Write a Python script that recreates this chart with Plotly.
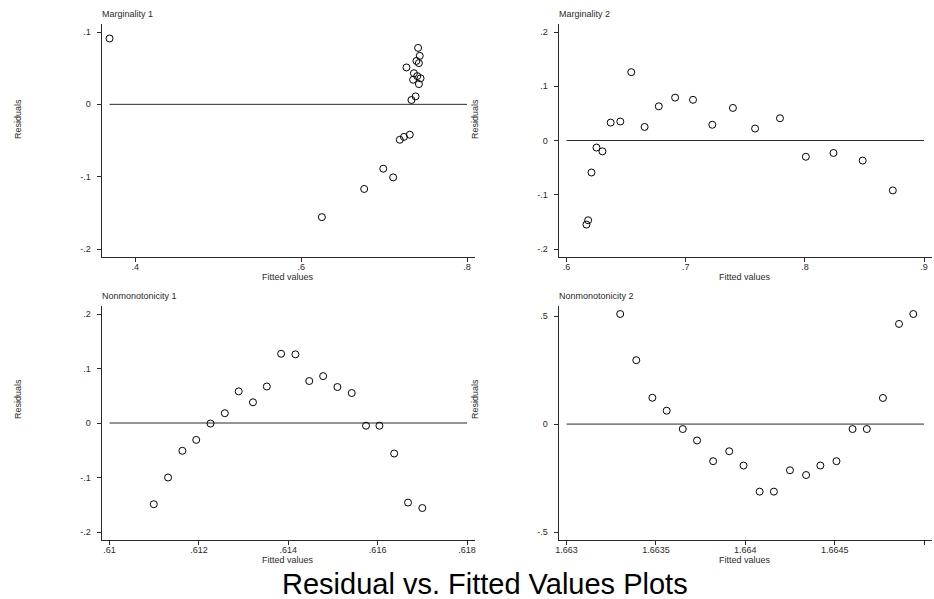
import plotly.graph_objects as go

# ---------------- data ----------------
marg1_x = [0.369, 0.676, 0.625, 0.699, 0.711, 0.719, 0.724, 0.731, 0.727, 0.733,
           0.738, 0.735, 0.736, 0.739, 0.740, 0.741, 0.743, 0.742, 0.744, 0.742]
marg1_y = [0.091, -0.117, -0.156, -0.089, -0.101, -0.049, -0.045, -0.042, 0.051, 0.006,
           0.011, 0.034, 0.043, 0.060, 0.039, 0.078, 0.067, 0.057, 0.036, 0.028]

marg2_x = [0.6167, 0.6181, 0.6209, 0.6251, 0.6301, 0.6370, 0.6451, 0.6543, 0.6655, 0.6774,
           0.6911, 0.7061, 0.7223, 0.7396, 0.7582, 0.7791, 0.8008, 0.8240, 0.8485, 0.8738]
marg2_y = [-0.155, -0.147, -0.059, -0.013, -0.020, 0.033, 0.035, 0.126, 0.025, 0.063,
           0.079, 0.075, 0.029, 0.060, 0.022, 0.041, -0.030, -0.023, -0.037, -0.092]

nonm1_x = [0.61099, 0.61131, 0.61163, 0.61194, 0.61226, 0.61258, 0.61289, 0.61321, 0.61352, 0.61384,
           0.61416, 0.61447, 0.61478, 0.61510, 0.61542, 0.61574, 0.61604, 0.61637, 0.61668, 0.61700]
nonm1_y = [-0.149, -0.100, -0.051, -0.031, -0.001, 0.018, 0.058, 0.038, 0.067, 0.127,
           0.126, 0.077, 0.086, 0.066, 0.055, -0.005, -0.005, -0.056, -0.146, -0.156]

nonm2_x = [1.66330, 1.66339, 1.66348, 1.66356, 1.66365, 1.66373, 1.66382, 1.66391, 1.66399, 1.66408,
           1.66416, 1.66425, 1.66434, 1.66442, 1.66451, 1.66460, 1.66468, 1.66477, 1.66486, 1.66494]
nonm2_y = [0.510, 0.296, 0.122, 0.062, -0.023, -0.076, -0.172, -0.126, -0.192, -0.313,
           -0.313, -0.214, -0.236, -0.192, -0.172, -0.023, -0.023, 0.121, 0.464, 0.510]

titles = ["Marginality 1", "Marginality 2", "Nonmonotonicity 1", "Nonmonotonicity 2"]

m1_xt = [0.4, 0.6, 0.8];            m1_xl = [".4", ".6", ".8"]
m1_yt = [-0.2, -0.1, 0, 0.1];       m1_yl = ["-.2", "-.1", "0", ".1"]
m2_xt = [0.6, 0.7, 0.8, 0.9];       m2_xl = [".6", ".7", ".8", ".9"]
m2_yt = [-0.2, -0.1, 0, 0.1, 0.2];  m2_yl = ["-.2", "-.1", "0", ".1", ".2"]
n1_xt = [0.610, 0.612, 0.614, 0.616, 0.618]; n1_xl = [".61", ".612", ".614", ".616", ".618"]
n1_yt = [-0.2, -0.1, 0, 0.1, 0.2];  n1_yl = ["-.2", "-.1", "0", ".1", ".2"]
n2_xt = [1.663, 1.6635, 1.664, 1.6645, 1.665]; n2_xl = ["1.663", "1.6635", "1.664", "1.6645", "1.665"]
n2_yt = [-0.5, 0, 0.5];             n2_yl = ["-.5", "0", ".5"]

# ---------------- layout geometry ----------------
W, H = 934, 599
FONT = "Liberation Sans, Arial, Helvetica, sans-serif"
TXT = "#2a2a2a"
LINE = "#2a2a2a"

panels = [
    dict(x=marg1_x, y=marg1_y, xt=m1_xt, xl=m1_xl, yt=m1_yt, yl=m1_yl,
         sx=(107, 466), sy=(249, 32), col=0, row=0),
    dict(x=marg2_x, y=marg2_y, xt=m2_xt, xl=m2_xl, yt=m2_yt, yl=m2_yl,
         sx=(566, 925), sy=(249, 32), col=1, row=0),
    dict(x=nonm1_x, y=nonm1_y, xt=n1_xt, xl=n1_xl, yt=n1_yt, yl=n1_yl,
         sx=(107, 466), sy=(532, 314), col=0, row=1),
    dict(x=nonm2_x, y=nonm2_y, xt=n2_xt, xl=n2_xl, yt=n2_yt, yl=n2_yl,
         sx=(566, 925), sy=(532, 314), col=1, row=1),
]
PAD = 8

fig = go.Figure()
annotations = []
layout_axes = {}

for i, p in enumerate(panels, start=1):
    xs = "" if i == 1 else str(i)
    xmin = min(min(p["x"]), min(p["xt"])); xmax = max(max(p["x"]), max(p["xt"]))
    ymin = min(min(p["y"]), min(p["yt"])); ymax = max(max(p["y"]), max(p["yt"]))
    sx0, sx1 = p["sx"]; sy0, sy1 = p["sy"]
    ux = (xmax - xmin) / (sx1 - sx0)
    uy = (ymax - ymin) / (sy0 - sy1)
    xr = [xmin - PAD * ux, xmax + PAD * ux]
    yr = [ymin - PAD * uy, ymax + PAD * uy]
    dx = [(sx0 - PAD) / W, min(sx1 + PAD, W - 0.5) / W]
    dy = [1 - (sy0 + PAD) / H, 1 - (sy1 - PAD) / H]

    # zero reference line across the scale range
    fig.add_trace(go.Scatter(x=[xmin, xmax], y=[0, 0], mode="lines",
                             line=dict(color=LINE, width=1), showlegend=False,
                             hoverinfo="skip", xaxis="x" + xs, yaxis="y" + xs))
    fig.add_trace(go.Scatter(x=p["x"], y=p["y"], mode="markers",
                             marker=dict(symbol="circle-open", size=7, color="black",
                                         line=dict(width=1, color="black")),
                             showlegend=False, xaxis="x" + xs, yaxis="y" + xs))

    common = dict(showgrid=False, zeroline=False, showline=True, linecolor=LINE, linewidth=1,
                  ticks="outside", ticklen=4, tickwidth=1, tickcolor=LINE,
                  tickfont=dict(family=FONT, size=9, color=TXT), fixedrange=True)
    layout_axes["xaxis" + xs] = dict(domain=dx, range=xr, tickmode="array", tickvals=p["xt"],
                                     ticktext=p["xl"], anchor="y" + xs, ticklabelstandoff=-3,
                                     **common)
    layout_axes["yaxis" + xs] = dict(domain=dy, range=yr, tickmode="array", tickvals=p["yt"],
                                     ticktext=p["yl"], anchor="x" + xs, ticklabelstandoff=4,
                                     **common)

    # panel title
    left_px = sx0 - PAD - 2
    top_px = sy1 - PAD - 10
    annotations.append(dict(text=titles[i - 1], x=left_px / W, y=1 - top_px / H,
                            xref="paper", yref="paper", xanchor="left", yanchor="middle",
                            showarrow=False, font=dict(family=FONT, size=9, color=TXT)))
    # x title
    annotations.append(dict(text="Fitted values", x=((sx0 + sx1) / 2) / W,
                            y=1 - (sy0 + PAD + 20) / H, xref="paper", yref="paper",
                            xanchor="center", yanchor="middle", showarrow=False,
                            font=dict(family=FONT, size=9, color=TXT)))
    # y title
    ytx = 15 if p["col"] == 0 else 474
    yty = 119 if p["row"] == 0 else 399
    annotations.append(dict(text="Residuals", x=ytx / W, y=1 - yty / H, xref="paper",
                            yref="paper", xanchor="center", yanchor="middle", textangle=-90,
                            showarrow=False, font=dict(family=FONT, size=9, color=TXT)))

annotations.append(dict(text="Residual vs. Fitted Values Plots", x=484.5 / W, y=1 - 584 / H,
                        xref="paper", yref="paper", xanchor="center", yanchor="middle",
                        showarrow=False, font=dict(family=FONT, size=29, color="black")))

fig.update_layout(width=W, height=H, margin=dict(l=0, r=0, t=0, b=0),
                  paper_bgcolor="white", plot_bgcolor="white",
                  annotations=annotations, **layout_axes)

fig.write_html("out.html")
